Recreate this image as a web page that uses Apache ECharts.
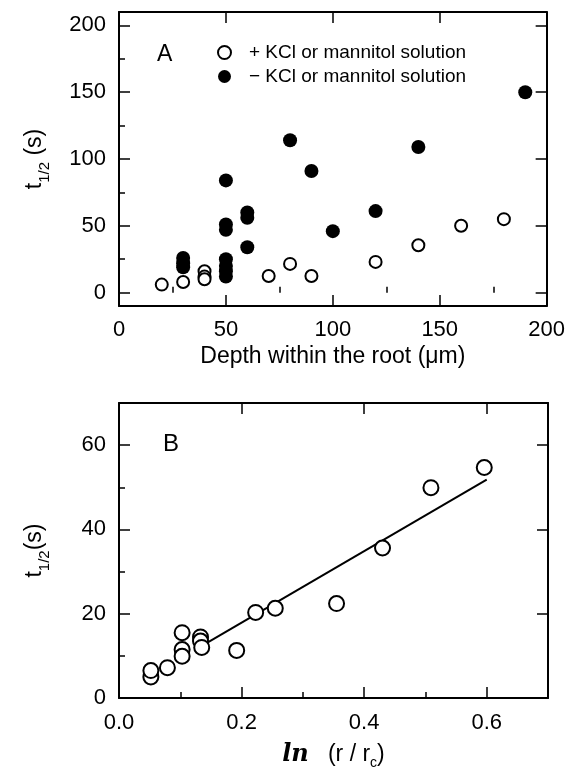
<!DOCTYPE html>
<html>
<head>
<meta charset="utf-8">
<script src="https://cdn.jsdelivr.net/npm/echarts@6/dist/echarts.min.js"></script>
<style>
    html, body { margin: 0; padding: 0; background: #fff; }
    #chart { width: 568px; height: 772px; }
</style>
</head>
<body>
<div id="chart"></div>
<script>
// 面板A：根内深度 vs t1/2
var depthOpen = [20, 30, 40, 40, 40, 70, 80, 90, 120, 140, 160, 180];
var tOpen = [6, 8, 16, 12, 10, 12.5, 21.5, 12.5, 23, 35.5, 50, 55];
var depthFilled = [30, 30, 30, 50, 50, 50, 50, 50, 50, 50, 60, 60, 60, 80, 90, 100, 120, 140, 190];
var tFilled = [26, 22, 19, 84, 51, 47, 25, 20, 16, 12, 60, 56, 34, 114, 91, 46, 61, 109, 150];
var xTicksA = [0, 50, 100, 150, 200];
var xMinorA = [25, 75, 125, 175];
var yTicksA = [0, 50, 100, 150, 200];
var yMinorA = [25, 75, 125, 175];

// 面板B：ln(r/rc) vs t1/2
var lnOpen = [0.052, 0.052, 0.079, 0.103, 0.103, 0.103, 0.133, 0.133, 0.135, 0.192, 0.223, 0.255, 0.355, 0.430, 0.509, 0.596];
var tOpenB = [5, 6.5, 7.2, 15.5, 11.5, 9.9, 14.5, 13.5, 12, 11.3, 20.3, 21.3, 22.4, 35.6, 49.9, 54.7];
var fitX = [0.14, 0.60];
var fitY = [12.8, 51.8];
var xTicksB = [0, 0.2, 0.4, 0.6];
var xMinorB = [0.1, 0.3, 0.5];
var yTicksB = [0, 20, 40, 60];
var yMinorB = [10, 30, 50];

var legendNames = ['+ KCl or mannitol solution', '\u2212 KCl or mannitol solution'];

(function () {
    var font = 'Liberation Sans, Arial, sans-serif';
    var black = '#000';
    var myChart = echarts.init(document.getElementById('chart'));

    function zip(a, b) {
        var out = [];
        for (var i = 0; i < a.length; i++) {
            out.push([a[i], b[i]]);
        }
        return out;
    }

    function axisBase(extra) {
        var o = {
            type: 'value',
            axisLine: { show: true, onZero: false, lineStyle: { color: black, width: 2 } },
            axisTick: { show: true, inside: true, length: 11, lineStyle: { color: black, width: 1.5 } },
            axisLabel: { show: false },
            splitLine: { show: false }
        };
        for (var k in extra) {
            o[k] = extra[k];
        }
        return o;
    }

    function minorAxis(extra) {
        var o = {
            type: 'value',
            axisLine: { show: false },
            axisTick: { show: true, inside: true, length: 6, lineStyle: { color: black, width: 1.5 } },
            axisLabel: { show: false },
            splitLine: { show: false }
        };
        for (var k in extra) {
            o[k] = extra[k];
        }
        return o;
    }

    function ticks(values, len) {
        return { show: true, inside: true, length: len, customValues: values, lineStyle: { color: black, width: 1.5 } };
    }

    var yName = function (space) {
        return '{t|t}{sub|1/2}{t|' + space + '(s)}';
    };
    var yNameStyle = {
        color: black,
        fontFamily: font,
        rich: {
            t: { fontSize: 23, fontFamily: font, color: black, lineHeight: 24, verticalAlign: 'top' },
            sub: { fontSize: 15, fontFamily: font, color: black, lineHeight: 15, padding: [14, 0, 0, 0], verticalAlign: 'top' }
        }
    };

    var option = {
        animation: false,
        title: [
            { text: 'A', left: 157, top: 43, padding: 0, textStyle: { fontSize: 23, fontWeight: 'normal', fontFamily: font, color: black } },
            { text: 'B', left: 163, top: 432, padding: 0, textStyle: { fontSize: 24, fontWeight: 'normal', fontFamily: font, color: black } }
        ],
        legend: {
            data: legendNames,
            orient: 'vertical',
            left: 212,
            top: 37,
            itemWidth: 13,
            itemHeight: 13,
            itemGap: 3,
            selectedMode: false,
            textStyle: { color: black, fontSize: 19, fontFamily: font, lineHeight: 21, padding: [0, 0, 0, 13] }
        },
        grid: [
            { left: 119, top: 12, width: 428, height: 294 },
            { left: 119, top: 403, width: 429, height: 295 },
            { left: 119, top: 12, width: 428, height: 294 },
            { left: 119, top: 403, width: 429, height: 295 }
        ],
        xAxis: [
            axisBase({
                gridIndex: 0, position: 'bottom', min: 0, max: 200,
                axisTick: ticks(xTicksA, 11),
                axisLabel: { show: true, color: black, fontSize: 22, fontFamily: font, margin: 13, customValues: xTicksA },
                name: 'Depth within the root (\u03bcm)',
                nameLocation: 'middle',
                nameGap: 39,
                nameTextStyle: { color: black, fontSize: 23, fontFamily: font }
            }),
            axisBase({ gridIndex: 0, position: 'top', min: 0, max: 200, axisTick: ticks(xTicksA, 11) }),
            axisBase({
                gridIndex: 1, position: 'bottom', min: 0, max: 0.7,
                axisTick: ticks(xTicksB, 11),
                axisLabel: {
                    show: true, color: black, fontSize: 22, fontFamily: font, margin: 14, customValues: xTicksB,
                    formatter: function (v) { return v.toFixed(1); }
                },
                name: '{ln|ln}{n|   (r / r}{sub|c}{n|)}',
                nameLocation: 'middle',
                nameGap: 45,
                nameTextStyle: {
                    color: black,
                    rich: {
                        ln: { fontSize: 24, fontFamily: 'DejaVu Serif, serif', fontWeight: 'bold', fontStyle: 'italic', color: black, lineHeight: 26, verticalAlign: 'top' },
                        n: { fontSize: 23, fontFamily: font, color: black, lineHeight: 26, verticalAlign: 'top' },
                        sub: { fontSize: 14, fontFamily: font, color: black, lineHeight: 14, padding: [13, 0, 0, 0], verticalAlign: 'top' }
                    }
                }
            }),
            axisBase({ gridIndex: 1, position: 'top', min: 0, max: 0.7, axisTick: ticks(xTicksB, 11) }),
            minorAxis({ gridIndex: 2, position: 'bottom', min: 0, max: 200, axisTick: ticks(xMinorA, 6) }),
            minorAxis({ gridIndex: 3, position: 'bottom', min: 0, max: 0.7, axisTick: ticks(xMinorB, 6) })
        ],
        yAxis: [
            axisBase({
                gridIndex: 0, position: 'left', min: -10, max: 210,
                axisTick: ticks(yTicksA, 11),
                axisLabel: { show: true, color: black, fontSize: 22, fontFamily: font, margin: 13, customValues: yTicksA },
                name: yName(' '),
                nameLocation: 'middle',
                nameGap: 72,
                nameTextStyle: yNameStyle
            }),
            axisBase({ gridIndex: 0, position: 'right', min: -10, max: 210, axisTick: ticks(yTicksA, 11) }),
            axisBase({
                gridIndex: 1, position: 'left', min: 0, max: 70,
                axisTick: ticks(yTicksB, 11),
                axisLabel: { show: true, color: black, fontSize: 22, fontFamily: font, margin: 13, customValues: yTicksB },
                name: yName(''),
                nameLocation: 'middle',
                nameGap: 72,
                nameTextStyle: yNameStyle
            }),
            axisBase({ gridIndex: 1, position: 'right', min: 0, max: 70, axisTick: ticks(yTicksB, 11) }),
            minorAxis({ gridIndex: 2, position: 'left', min: -10, max: 210, axisTick: ticks(yMinorA, 6) }),
            minorAxis({ gridIndex: 3, position: 'left', min: 0, max: 70, axisTick: ticks(yMinorB, 6) })
        ],
        series: [
            {
                name: legendNames[1],
                type: 'scatter',
                xAxisIndex: 0,
                yAxisIndex: 0,
                symbol: 'circle',
                symbolSize: 14,
                itemStyle: { color: black, opacity: 1 },
                data: zip(depthFilled, tFilled),
                z: 3
            },
            {
                name: legendNames[0],
                type: 'scatter',
                xAxisIndex: 0,
                yAxisIndex: 0,
                symbol: 'circle',
                symbolSize: 12,
                itemStyle: { color: '#fff', borderColor: black, borderWidth: 2, opacity: 1 },
                data: zip(depthOpen, tOpen),
                z: 4
            },
            {
                name: 'fit',
                type: 'line',
                xAxisIndex: 2,
                yAxisIndex: 2,
                symbol: 'none',
                lineStyle: { color: black, width: 2 },
                data: zip(fitX, fitY),
                z: 2
            },
            {
                name: 'B',
                type: 'scatter',
                xAxisIndex: 2,
                yAxisIndex: 2,
                symbol: 'circle',
                symbolSize: 15,
                itemStyle: { color: '#fff', borderColor: black, borderWidth: 2, opacity: 1 },
                data: zip(lnOpen, tOpenB),
                z: 4
            }
        ]
    };
    myChart.setOption(option);
    window.addEventListener('resize', function () {
        myChart.resize();
    });
})();
</script>
</body>
</html>
